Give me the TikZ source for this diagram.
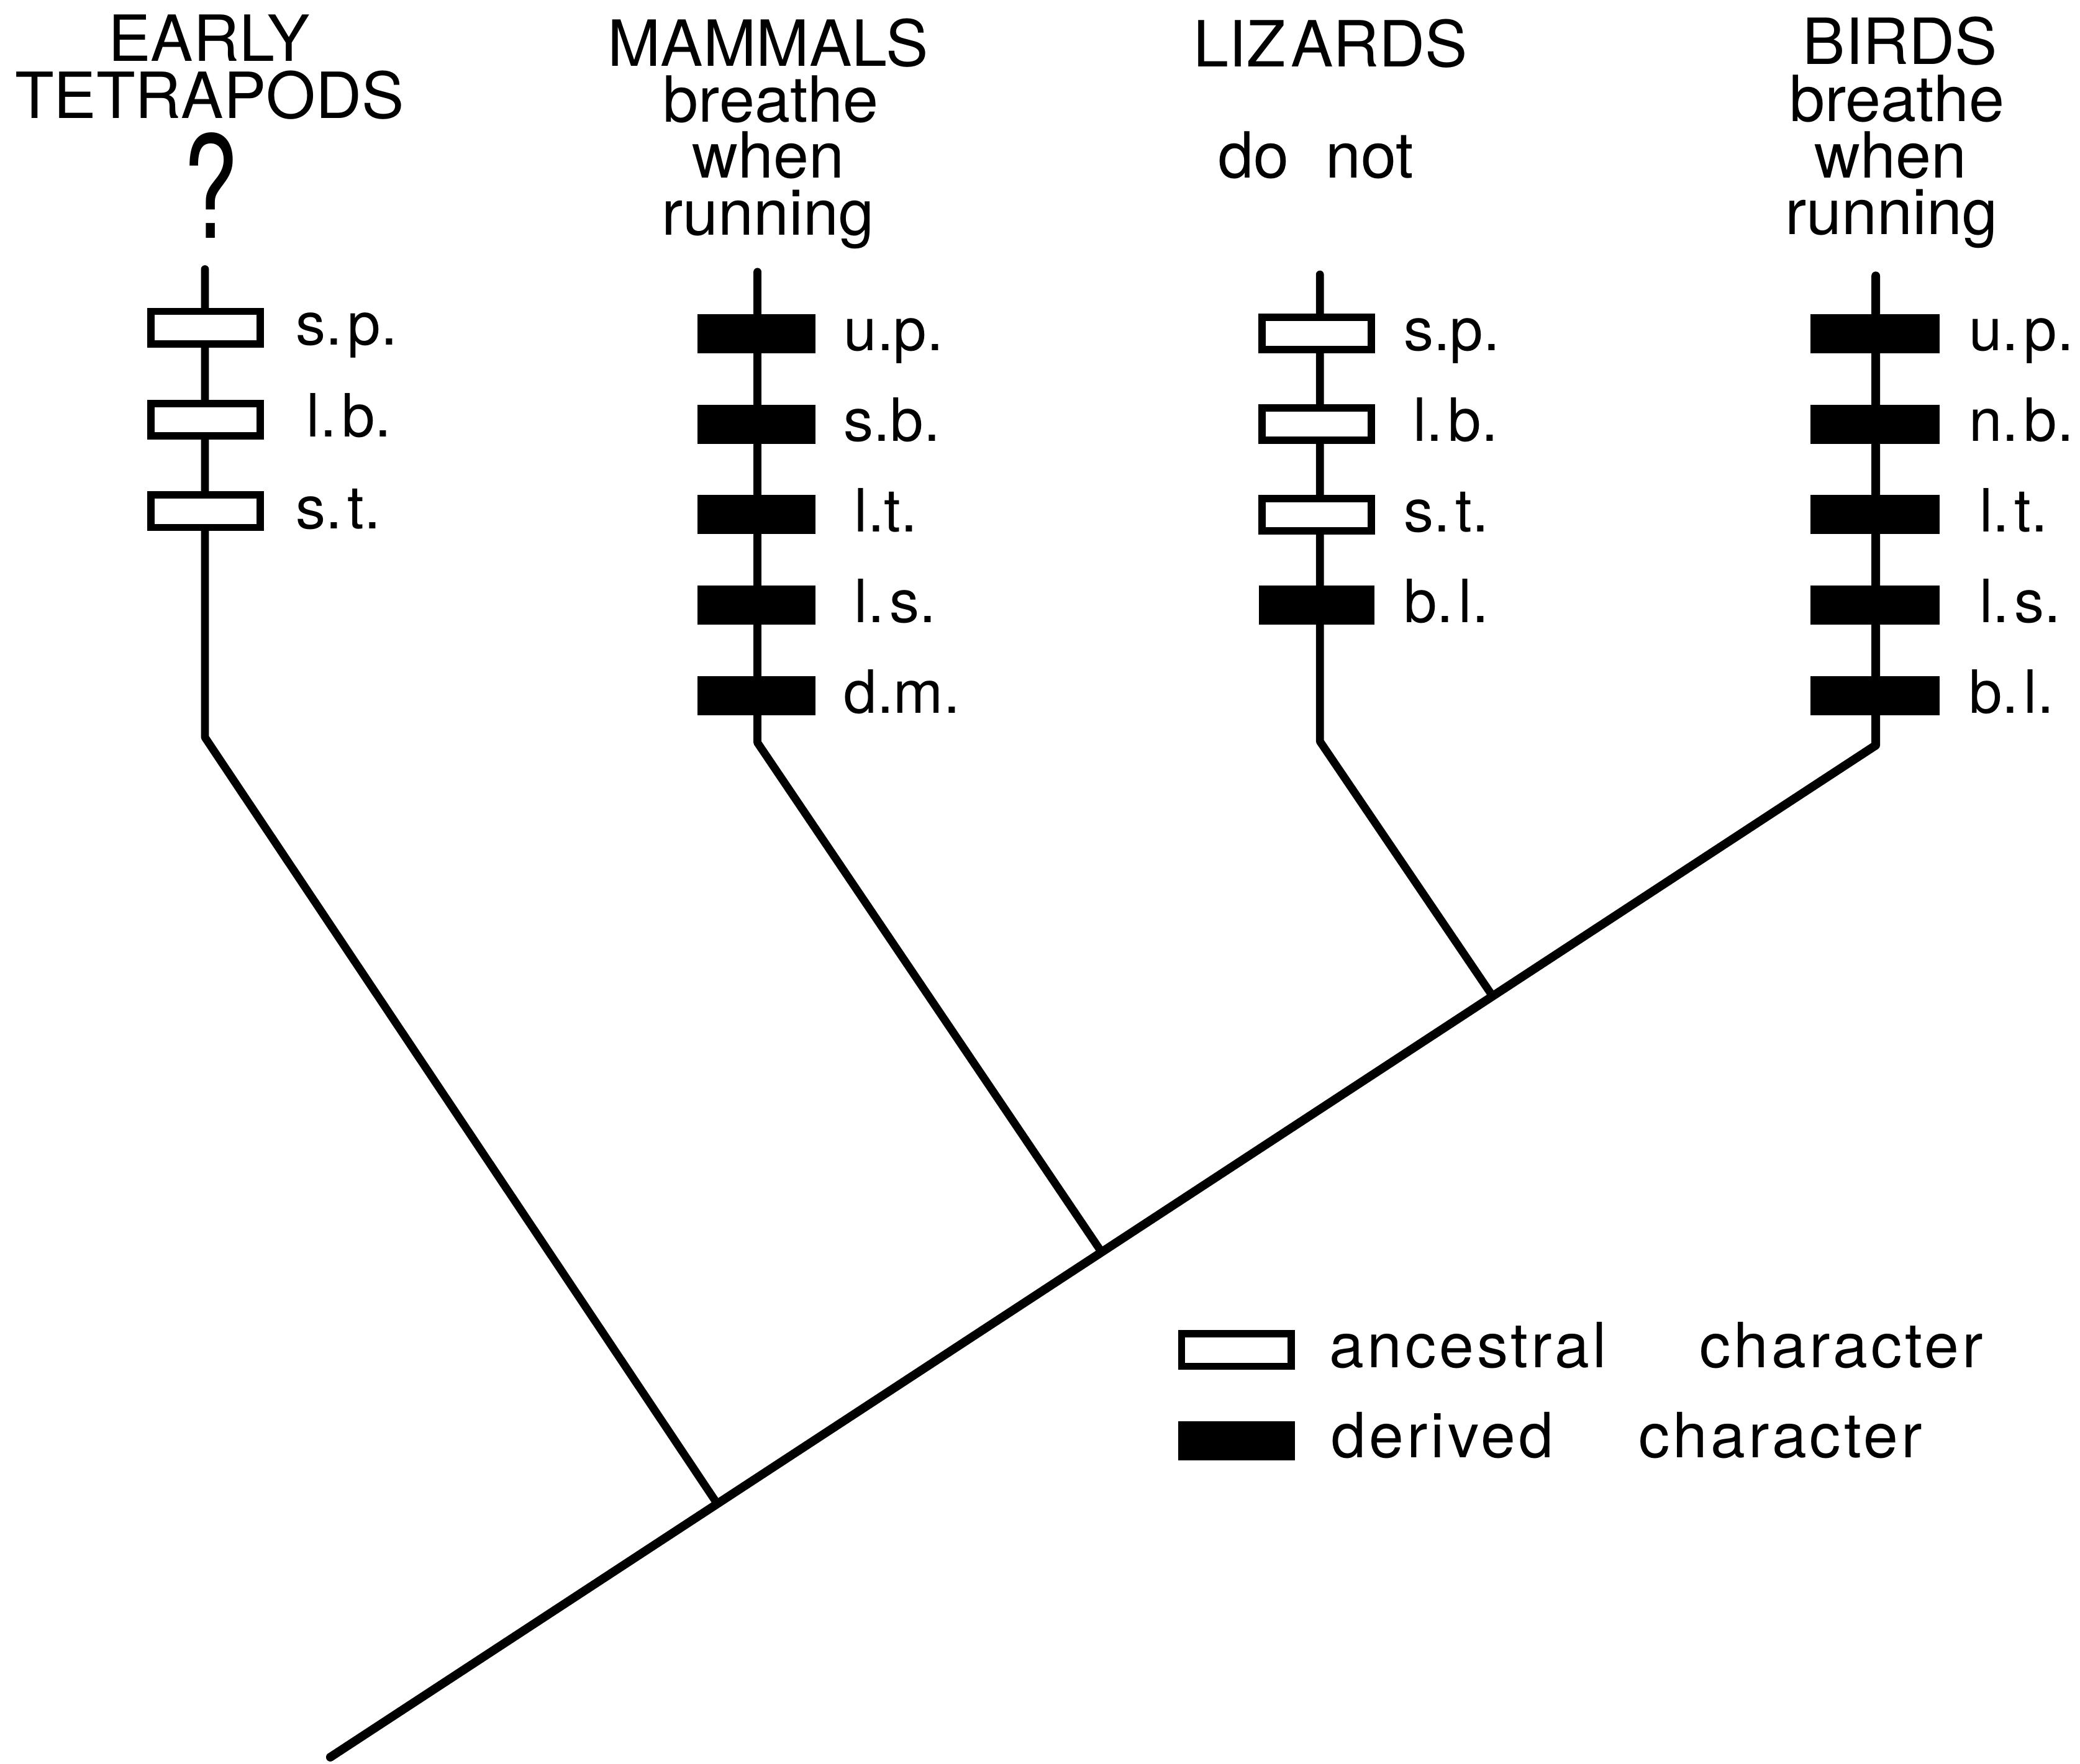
\documentclass[tikz,border=0pt]{standalone}
\usepackage{fontspec}
\setmainfont{TeX Gyre Heros}
\newfontfamily\legfont{TeX Gyre Heros}[LetterSpace=5]
\usepackage{graphicx}
\usetikzlibrary{calc}
\newcommand{\gp}{\kern4pt}
\begin{document}
\begin{tikzpicture}[x=1pt,y=-1pt,
  branch/.style={line width=6pt, line join=round, line cap=round},
  anc/.style={draw, fill=white, line width=5.5pt, minimum width=82.5pt, minimum height=24.5pt, inner sep=0pt, outer sep=0pt},
  der/.style={fill=black, draw=none, minimum width=89pt, minimum height=29.5pt, inner sep=0pt, outer sep=0pt},
  hd/.style={anchor=base, inner sep=0pt, font=\fontsize{48}{48}\selectfont},
  lab/.style={anchor=base west, inner sep=0pt, font=\fontsize{45}{45}\selectfont},
  leg/.style={anchor=base west, inner sep=0pt, font=\legfont\fontsize{47}{47}\selectfont},
]
\fill[white] (0,0) rectangle (1568,1330);
\useasboundingbox (0,0) rectangle (1568,1330);

% stem coordinates
\coordinate (etop) at (154.5,203);
\coordinate (ebend) at (154.5,556);
\coordinate (mtop) at (571,205);
\coordinate (mbend) at (571,560);
\coordinate (ltop) at (995,207);
\coordinate (lbend) at (995,559);
\coordinate (btop) at (1414,208);
\coordinate (bbend) at (1414,562);
\coordinate (root) at (249,1325);
\coordinate (J3) at ($(bbend)!0.2479!(root)$);
\coordinate (J2) at ($(bbend)!0.5009!(root)$);
\coordinate (J1) at ($(bbend)!0.7496!(root)$);

% tree
\draw[branch] (etop) -- (ebend) -- (J1);
\draw[branch] (mtop) -- (mbend) -- (J2);
\draw[branch] (ltop) -- (lbend) -- (J3);
\draw[branch, line width=6.5pt] (btop) -- (bbend) -- (root);

% headers
\node[hd] (eh1) at (157.5,46) {EARLY};
\node[hd] (eh2) at (158,89) {TETRAPODS};
\node[anchor=base, inner sep=0pt] (eq) at (159,179.4) {\scalebox{0.7}[1]{\fontsize{107.4}{107.4}\selectfont ?}};

\node[hd] (mh1) at (579,50) {MAMMALS};
\node[hd] (mh2) at (581,92) {breathe};
\node[hd] (mh3) at (579,134.2) {when};
\node[hd] (mh4) at (579,177) {running};

\node[hd] (lh1) at (1003,50.5) {LIZ\kern4pt{}ARDS};
\node[hd] (lh2) at (992,134) {do\hspace{14pt} not};

\node[hd] (bh1) at (1432.5,48.5) {BIRDS};
\node[hd] (bh2) at (1430,91.5) {breathe};
\node[hd] (bh3) at (1425,134) {when};
\node[hd] (bh4) at (1426,176.6) {running};

% early tetrapods
\node[anc] (e1) at (155,247) {};
\node[anc] (e2) at (155,316.5) {};
\node[anc] (e3) at (155,385.5) {};
\node[lab] (e1t) at (223,260) {s.\gp p.};
\node[lab] (e2t) at (231,329.5) {l.\gp b.};
\node[lab] (e3t) at (223,398.5) {s.\gp t.};

% mammals
\node[der] (m1) at (570.4,251.5) {};
\node[der] (m2) at (570.4,319.8) {};
\node[der] (m3) at (570.4,388.1) {};
\node[der] (m4) at (570.4,456.4) {};
\node[der] (m5) at (570.4,524.7) {};
\node[lab] (m1t) at (636,264.5) {u.p.};
\node[lab] (m2t) at (636,332.8) {s.b.};
\node[lab] (m3t) at (644,401.1) {l.t.};
\node[lab] (m4t) at (644,469.4) {l.\gp s.};
\node[lab] (m5t) at (636,537.7) {d.m.};

% lizards
\node[anc] (l1) at (992.5,251.5) {};
\node[anc] (l2) at (992.5,319.8) {};
\node[anc] (l3) at (992.5,388.1) {};
\node[der, minimum width=87pt] (l4) at (992.5,456.4) {};
\node[lab] (l1t) at (1058,264.5) {s.p.};
\node[lab] (l2t) at (1065,332.8) {l.\gp b.};
\node[lab] (l3t) at (1058,401.1) {s.\gp t.};
\node[lab] (l4t) at (1058,469.4) {b.\gp l.};

% birds
\node[der, minimum width=97pt] (b1) at (1413.5,251.5) {};
\node[der, minimum width=97pt] (b2) at (1413.5,319.8) {};
\node[der, minimum width=97pt] (b3) at (1413.5,388.1) {};
\node[der, minimum width=97pt] (b4) at (1413.5,456.4) {};
\node[der, minimum width=97pt] (b5) at (1413.5,524.7) {};
\node[lab] (b1t) at (1484,264.5) {u.\gp p.};
\node[lab] (b2t) at (1484,332.8) {n.\gp b.};
\node[lab] (b3t) at (1492,401.1) {l.\gp t.};
\node[lab] (b4t) at (1492,469.4) {l.\gp s.};
\node[lab] (b5t) at (1484,537.7) {b.\gp l.};

% legend
\node[anc] (la) at (932,1018) {};
\node[der, minimum width=88pt] (ld) at (932,1086.5) {};
\node[leg] (lat) at (1002,1031) {ancestral};
\node[leg] (lac) at (1281,1031) {character};
\node[leg] (ldt) at (1003.5,1099) {derived};
\node[leg] (ldc) at (1235,1099) {character};
\end{tikzpicture}
\end{document}
